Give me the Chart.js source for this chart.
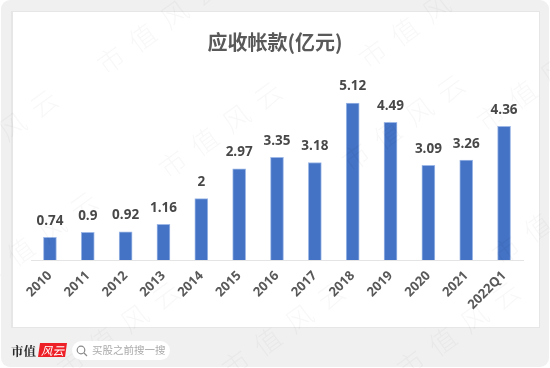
<!DOCTYPE html>
<html><head><meta charset="utf-8">
<style>html,body{margin:0;padding:0;background:#fff}#w{width:550px;height:368px}canvas{display:block;filter:blur(0.35px)}</style>
<script src="https://cdn.jsdelivr.net/npm/chart.js@4"></script></head>
<body><div id="w"><canvas id="c" width="550" height="368"></canvas></div>
<script>
const categories=['2010','2011','2012','2013','2014','2015','2016','2017','2018','2019','2020','2021','2022Q1'];
const receivables=[0.74,0.9,0.92,1.16,2,2.97,3.35,3.18,5.12,4.49,3.09,3.26,4.36];
const valueLabels=['0.74','0.9','0.92','1.16','2','2.97','3.35','3.18','5.12','4.49','3.09','3.26','4.36'];
const titleText='应收帐款(亿元)';
const watermarks=[[100,68],[162,172],[-62,180],[-22,282],[60,372],[362,62],[345,165],[225,372],[400,372],[495,258],[480,125]];
const CJK='"Noto Sans CJK SC","Noto Sans",sans-serif';
function rr(x,y,w,h,r,g,fill){g.beginPath();g.roundRect(x,y,w,h,r);g.fillStyle=fill;g.fill();}
const backdrop={id:'backdrop',beforeDraw(ch){const g=ch.ctx;g.save();
  g.fillStyle='#fff';g.fillRect(0,0,550,368);
  rr(1,0,548,367,9,g,'#f0f0f0');
  g.fillStyle='#e6e6e6';g.fillRect(11,11,529,317);
  g.fillStyle='#fff';g.fillRect(13,12,526,315);
  g.restore();},
 afterDatasetsDraw(ch){const g=ch.ctx,meta=ch.getDatasetMeta(0);g.save();
  g.font='bold 13.5px "Open Sans",sans-serif';g.fillStyle='#484848';g.textAlign='center';g.textBaseline='alphabetic';
  meta.data.forEach((b,i)=>g.fillText(valueLabels[i],b.x,b.y-12.5));
  g.restore();},
 afterDraw(ch){const g=ch.ctx;g.save();
  g.fillStyle='rgba(0,0,0,0.03)';g.font='300 27px '+CJK;g.letterSpacing='12px';g.textAlign='left';g.textBaseline='middle';
  watermarks.forEach(([x,y])=>{g.save();g.translate(x,y);g.rotate(-36*Math.PI/180);g.fillText('市值风云',0,0);g.restore();});
  g.letterSpacing='0px';
  g.fillStyle='#2b2b2b';g.font='bold 12.5px "Noto Serif CJK SC","Noto Sans CJK SC",serif';g.textAlign='left';g.textBaseline='middle';
  g.fillText('市值',11,351);
  g.fillStyle='#ee2027';g.beginPath();g.moveTo(40,343);g.lineTo(67,343);g.lineTo(65,357);g.lineTo(38,357);g.closePath();g.fill();
  g.fillStyle='#fff';g.font='italic 11.5px '+CJK;g.fillText('风云',41,350.5);
  rr(72,341,98,19,9.5,g,'#fff');
  g.strokeStyle='#8a8a8a';g.lineWidth=1.2;g.beginPath();g.arc(81,350,3.8,0,Math.PI*2);g.moveTo(84,353);g.lineTo(87,356);g.stroke();
  g.fillStyle='#aaa';g.font='10.5px '+CJK;g.fillText('买股之前搜一搜',92,350.5);
  g.restore();}};
new Chart(document.getElementById('c'),{type:'bar',
 data:{labels:categories,datasets:[{data:receivables,backgroundColor:'#4472c4',borderColor:'#9db8e6',borderWidth:{left:1,right:1,top:1,bottom:0},barThickness:13}]},
 plugins:[backdrop],
 options:{responsive:false,animation:false,events:[],
  layout:{padding:{left:27,right:27,top:30,bottom:0}},
  plugins:{legend:{display:false},tooltip:{enabled:false},
   title:{display:true,text:titleText,color:'#595959',font:{family:CJK,size:20,weight:'bold',lineHeight:1.2},padding:{top:0,bottom:22}}},
  scales:{
   x:{offset:true,grid:{display:false,drawTicks:false},border:{color:'#e4e4e4',width:1},
      afterFit(s){s.height=108;s.paddingLeft=0;s.paddingRight=0;},
      ticks:{autoSkip:false,minRotation:45,maxRotation:45,padding:8,color:'#595959',font:{family:'"Open Sans",sans-serif',size:13,weight:'bold'}}},
   y:{display:true,min:0,max:6,grid:{display:false,drawTicks:false},border:{display:false},ticks:{display:false},afterFit(s){s.width=4;}}}}});
</script></body></html>
